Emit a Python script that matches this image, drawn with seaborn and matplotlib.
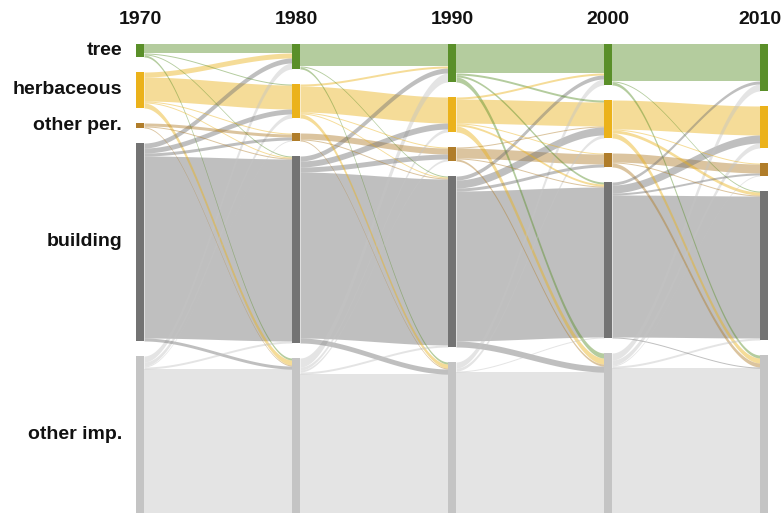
import numpy as np
import matplotlib
matplotlib.use("Agg")
import matplotlib.pyplot as plt
import seaborn as sns

sns.set_theme(style="white")
plt.rcParams["font.family"] = ["Liberation Sans", "DejaVu Sans"]

# ---- Data ----
YEARS = ["1970", "1980", "1990", "2000", "2010"]
CLASSES = ["tree", "herbaceous", "other per.", "building", "other imp."]
NODE_COLORS = ["#5a8f29", "#ebb21b", "#b07d2a", "#737373", "#c4c4c4"]

# land cover transitions, rows = from class, cols = to class (area units)
FLOW_1970_1980 = [
    [9, 1, 0, 1, 2],
    [5, 24, 1, 1, 5],
    [0, 0, 3, 1, 1],
    [5, 5, 3, 182, 3],
    [6, 4, 1, 2, 201],
]
FLOW_1980_1990 = [
    [22, 0, 0, 1, 2],
    [2, 26, 1, 1, 4],
    [0, 0, 6, 1, 1],
    [5, 6, 5, 166, 5],
    [9, 3, 2, 2, 196],
]
FLOW_1990_2000 = [
    [29, 2, 0, 2, 5],
    [2, 24, 1, 2, 6],
    [0, 1, 10, 1, 2],
    [4, 8, 3, 150, 6],
    [6, 3, 0, 1, 198],
]
FLOW_2000_2010 = [
    [37, 0, 0, 1, 3],
    [0, 29, 1, 3, 5],
    [0, 0, 9, 1, 4],
    [3, 8, 2, 142, 1],
    [7, 5, 1, 2, 202],
]

# ---- Layout ----
GAP = 15          # vertical gap between nodes (area units)
NODE_W = 8 / 156  # node width in column units
LINK_ALPHA = 0.45

flows = [np.array(f, dtype=float) for f in
         (FLOW_1970_1980, FLOW_1980_1990, FLOW_1990_2000, FLOW_2000_2010)]

# node sizes per column
sizes = [flows[0].sum(axis=1)] + [f.sum(axis=0) for f in flows]
tops = []
for s in sizes:
    t = np.concatenate([[0], np.cumsum(s + GAP)[:-1]])
    tops.append(t)

fig = plt.figure(figsize=(7.84, 5.13), dpi=100)
ax = fig.add_axes([0, 0, 1, 1])
ax.set_xlim(-140 / 156, 4 + 20 / 156)
ax.set_ylim(469, -44)
ax.axis("off")

# ---- Links ----
tt = np.linspace(0, 1, 80)
ease = 3 * tt**2 - 2 * tt**3
links = []
for k, f in enumerate(flows):
    out_off = tops[k].copy()
    in_off = tops[k + 1].copy()
    n = f.shape[0]
    starts = np.zeros((n, n))
    ends = np.zeros((n, n))
    for i in range(n):
        for j in range(n):
            starts[i, j] = out_off[i]
            out_off[i] += f[i, j]
    for j in range(n):
        for i in range(n):
            ends[i, j] = in_off[j]
            in_off[j] += f[i, j]
    for i in range(n):
        for j in range(n):
            if f[i, j] > 0:
                links.append((f[i, j], k, i, starts[i, j], ends[i, j]))

for v, k, i, ys, ye in sorted(links, key=lambda l: -l[0]):
    x0 = k + NODE_W / 2
    x1 = k + 1 - NODE_W / 2
    xs = x0 + (x1 - x0) * tt
    top = ys + (ye - ys) * ease
    ax.fill_between(xs, top, top + v, color=NODE_COLORS[i],
                    alpha=LINK_ALPHA, lw=0)

# ---- Nodes ----
last = len(YEARS) - 1
for c in range(len(YEARS)):
    ax.bar([c] * len(CLASSES), sizes[c], bottom=tops[c], width=NODE_W,
           color=NODE_COLORS, linewidth=0)
    ax.text(min(c, last - 4 / 156), -24, YEARS[c], ha="center", va="center",
            fontsize=14, fontweight="bold", color="#111111")

# class labels on the left
ybottom = ax.get_ylim()[0]
for i, name in enumerate(CLASSES):
    yc = tops[0][i] + sizes[0][i] / 2
    yc = min(yc, (tops[0][i] + ybottom) / 2)
    ax.text(-18 / 156, yc, name, ha="right", va="center",
            fontsize=14, fontweight="bold", color="#111111")

fig.savefig("out.png", dpi=100)
